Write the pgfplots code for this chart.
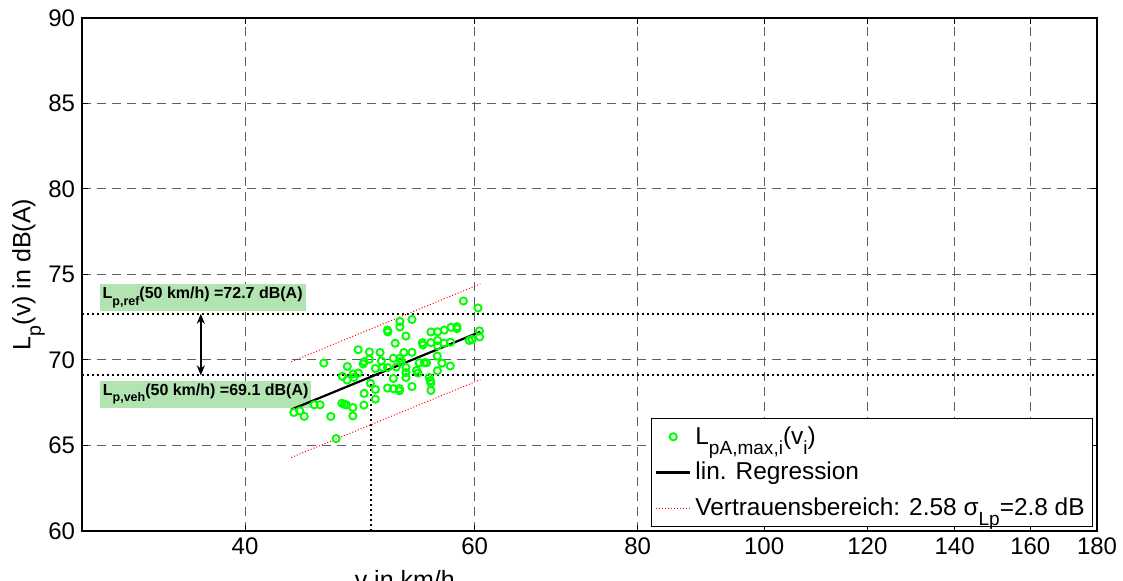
\documentclass[border=0pt]{standalone}
\usepackage{fontspec}
\setmainfont{Liberation Sans}
\usepackage{graphicx}
\usepackage{pgfplots}
\pgfplotsset{compat=1.18}
\usetikzlibrary{arrows.meta}

\definecolor{markgreen}{RGB}{0,255,0}
\definecolor{boxgreen}{RGB}{178,228,178}
\definecolor{gridgray}{RGB}{95,95,95}
\newcommand{\sub}[1]{\raisebox{-0.42em}{\scalebox{0.78}{#1}}}

\begin{document}
\begin{tikzpicture}
\begin{axis}[
  scale only axis, width=507.5pt, height=256.5pt,
  xmode=log, xmin=30, xmax=180, ymin=60, ymax=90,
  xtick={40,60,80,100,120,140,160,180},
  xticklabels={40,60,80,100,120,140,160,180},
  xminorticks=false,
  ytick={60,65,...,90},
  tick align=inside, tick pos=both, major tick length=3pt,
  grid=major,
  major grid style={gridgray, line width=0.5pt, dash pattern=on 4.5pt off 3pt},
  axis line style={line width=0.75pt},
  tick style={black, line width=0.5pt},
  ticklabel style={font=\fontsize{12}{14}\selectfont},
  /pgf/number format/assume math mode=true,
  xlabel={v in km/h},
  ylabel={L\sub{p}(v) in dB(A)},
  label style={font=\fontsize{12.5}{15}\selectfont},
  xlabel style={at={(axis description cs:0.318,0)}, anchor=north, yshift=-16pt},
  ylabel style={at={(axis description cs:-0.0527,0.5)}, anchor=center},
  legend cell align=left,
  legend style={at={(rel axis cs:0.996,0.008)}, anchor=south east,
    draw=black, fill=white, font=\fontsize{12.2}{15}\selectfont,
    inner xsep=2pt, inner ysep=2pt, row sep=3.5pt},
]
\coordinate (sw) at (rel axis cs:0,0);
\coordinate (ne) at (rel axis cs:1,1);

% reference levels at 50 km/h
\addplot[black, line width=1pt, dash pattern=on 1pt off 1.5pt, forget plot]
  coordinates {(30,72.7) (180,72.7)};
\addplot[black, line width=1pt, dash pattern=on 1pt off 1.5pt, forget plot]
  coordinates {(30,69.1) (180,69.1)};
\addplot[black, line width=1pt, dash pattern=on 1pt off 1.5pt, forget plot]
  coordinates {(50,60) (50,69.1)};
\addplot[black, line width=0.8pt, {Stealth[length=5pt,width=4pt]}-{Stealth[length=5pt,width=4pt]}, forget plot]
  coordinates {(37,69.1) (37,72.7)};

% value labels
\node[fill=boxgreen, inner xsep=1.5pt, inner ysep=0pt, minimum height=13.5pt,
      font=\bfseries\fontsize{8}{9}\selectfont]
  at (axis cs:37.12,73.65) {L\sub{p,ref}(50 km/h) =72.7 dB(A)};
\node[fill=boxgreen, inner xsep=1.5pt, inner ysep=0pt, minimum height=13.5pt,
      font=\bfseries\fontsize{8}{9}\selectfont]
  at (axis cs:37.32,68.01) {L\sub{p,veh}(50 km/h) =69.1 dB(A)};

% measured pass-by levels
\addplot[only marks, mark=o, mark size=1.8pt, mark options={markgreen, line width=0.95pt}]
  coordinates {
  (58.82,73.45) (60.35,73.04) (52.58,72.25) (53.71,72.37) (52.58,71.93)
  (51.43,71.75) (51.47,71.64) (53.14,71.40) (55.54,71.64) (56.20,71.65)
  (56.86,71.75) (57.54,71.91) (58.15,71.95) (58.15,71.83) (60.51,71.70)
  (60.53,71.35) (59.43,71.14) (59.71,71.20) (52.14,70.98) (54.71,71.01)
  (54.76,70.88) (55.54,71.02) (56.20,71.14) (56.83,70.99) (57.49,71.04)
  (56.20,70.82) (48.84,70.60) (49.82,70.47) (50.77,70.44) (52.95,70.44)
  (53.71,70.45) (56.16,70.23) (51.98,70.10) (52.58,70.10) (52.72,69.94)
  (49.82,70.04) (49.36,69.90) (49.28,69.77) (50.89,69.94) (45.97,69.82)
  (47.92,69.62) (50.35,69.50) (51.00,69.56) (51.45,69.56) (52.24,69.59)
  (53.14,69.56) (54.40,69.84) (54.89,69.84) (55.12,69.84) (56.63,69.82)
  (57.47,69.65) (54.15,69.39) (54.28,69.24) (56.18,69.37) (48.86,69.24)
  (48.41,69.18) (47.50,69.04) (47.90,68.83) (48.47,68.98) (51.98,68.92)
  (53.14,69.26) (53.14,68.98) (55.37,68.98) (55.49,68.79) (55.54,68.65)
  (49.91,68.64) (51.45,68.36) (51.98,68.32) (52.53,68.33) (52.53,68.20)
  (53.71,68.45) (55.54,68.22) (50.35,68.27) (49.36,68.05) (50.35,67.71)
  (47.46,67.47) (47.67,67.41) (47.85,67.37) (49.34,67.36) (48.39,67.22)
  (45.20,67.38) (45.67,67.38) (43.60,66.93) (44.06,67.02) (44.41,66.70)
  (46.54,66.70) (48.39,66.73) (46.98,65.40)
  };
\addlegendentry{L\sub{pA,max,i}(v\sub{i})}

% regression line and confidence band
\addplot[black, line width=1.1pt] coordinates {(43.4,67.1) (60.6,71.65)};
\addlegendentry{lin. Regression}
\addplot[red, line width=0.5pt, densely dotted] coordinates {(43.4,69.9) (60.6,74.45)};
\addlegendentry{Vertrauensbereich: 2.58 σ\sub{Lp}=2.8 dB}
\addplot[red, line width=0.5pt, densely dotted, forget plot] coordinates {(43.4,64.3) (60.6,68.85)};
\end{axis}
\pgfresetboundingbox
\useasboundingbox ([xshift=-41pt,yshift=-25pt]sw) rectangle ([xshift=13pt,yshift=9pt]ne);
\end{tikzpicture}
\end{document}
